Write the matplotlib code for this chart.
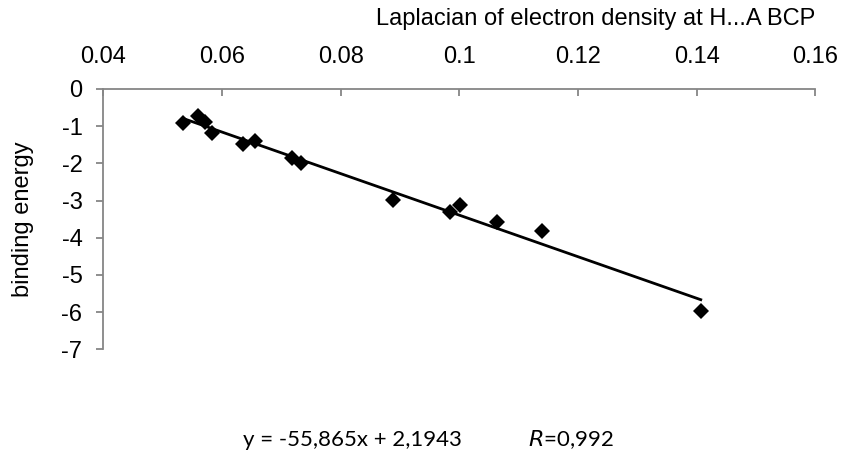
import numpy as np
import matplotlib.pyplot as plt

plt.rcParams['font.family'] = ['Liberation Sans', 'DejaVu Sans']

# Laplacian of electron density at H...A BCP vs binding energy
lap = [0.0535, 0.0560, 0.0572, 0.0584, 0.0636, 0.0655, 0.0718, 0.0733,
       0.0888, 0.0985, 0.1001, 0.1063, 0.1139, 0.1407]
energy = [-0.92, -0.72, -0.88, -1.19, -1.48, -1.40, -1.86, -2.00,
          -2.99, -3.31, -3.13, -3.58, -3.83, -5.97]

# trend line coefficients as printed on the chart
slope = -55.865
intercept = 2.1943

xticks = [0.04, 0.06, 0.08, 0.1, 0.12, 0.14, 0.16]
xticklabels = ['0.04', '0.06', '0.08', '0.1', '0.12', '0.14', '0.16']
yticks = [0, -1, -2, -3, -4, -5, -6, -7]

fig = plt.figure(figsize=(8.41, 4.54), dpi=100)
ax = fig.add_axes([0.1228, 0.2306, 0.8466, 0.5734])

x = np.array([min(lap), max(lap)])
ax.plot(x, slope*x + intercept, color='black', lw=2, zorder=2)
ax.plot(lap, energy, 'D', color='black', ms=8.5, mew=0, zorder=3)

ax.set_xlim(0.04, 0.16)
ax.set_ylim(-7, 0)
ax.xaxis.tick_top()
ax.set_xticks(xticks)
ax.set_xticklabels(xticklabels)
ax.set_yticks(yticks)
ax.set_yticklabels([str(t) for t in yticks])

for s in ['bottom', 'right']:
    ax.spines[s].set_visible(False)
for s in ['top', 'left']:
    ax.spines[s].set_color('#868686')
    ax.spines[s].set_linewidth(1.3)

ax.tick_params(axis='x', direction='in', length=5, width=1.3, color='#868686',
               labelsize=17, pad=15)
ax.tick_params(axis='y', direction='out', length=5, width=1.3, color='#868686',
               labelsize=17, pad=10)

# axis titles placed in figure pixels
fig.text(815/841, 1 - 19/454, 'Laplacian of electron density at H...A BCP',
         fontsize=17, ha='right', va='center')
fig.text(23/841, 1 - 219/454, 'binding energy', fontsize=17,
         rotation=90, ha='center', va='center')

fig.text(243/841, 1 - 446/454, 'y = -55,865x + 2,1943', fontsize=16,
         family=['Lato', 'DejaVu Sans'], ha='left', va='baseline')
fig.text(528/841, 1 - 446/454, r'$\it{R}$=0,992', fontsize=16,
         family=['Lato', 'DejaVu Sans'], ha='left', va='baseline')

plt.savefig('out.png', dpi=100)
